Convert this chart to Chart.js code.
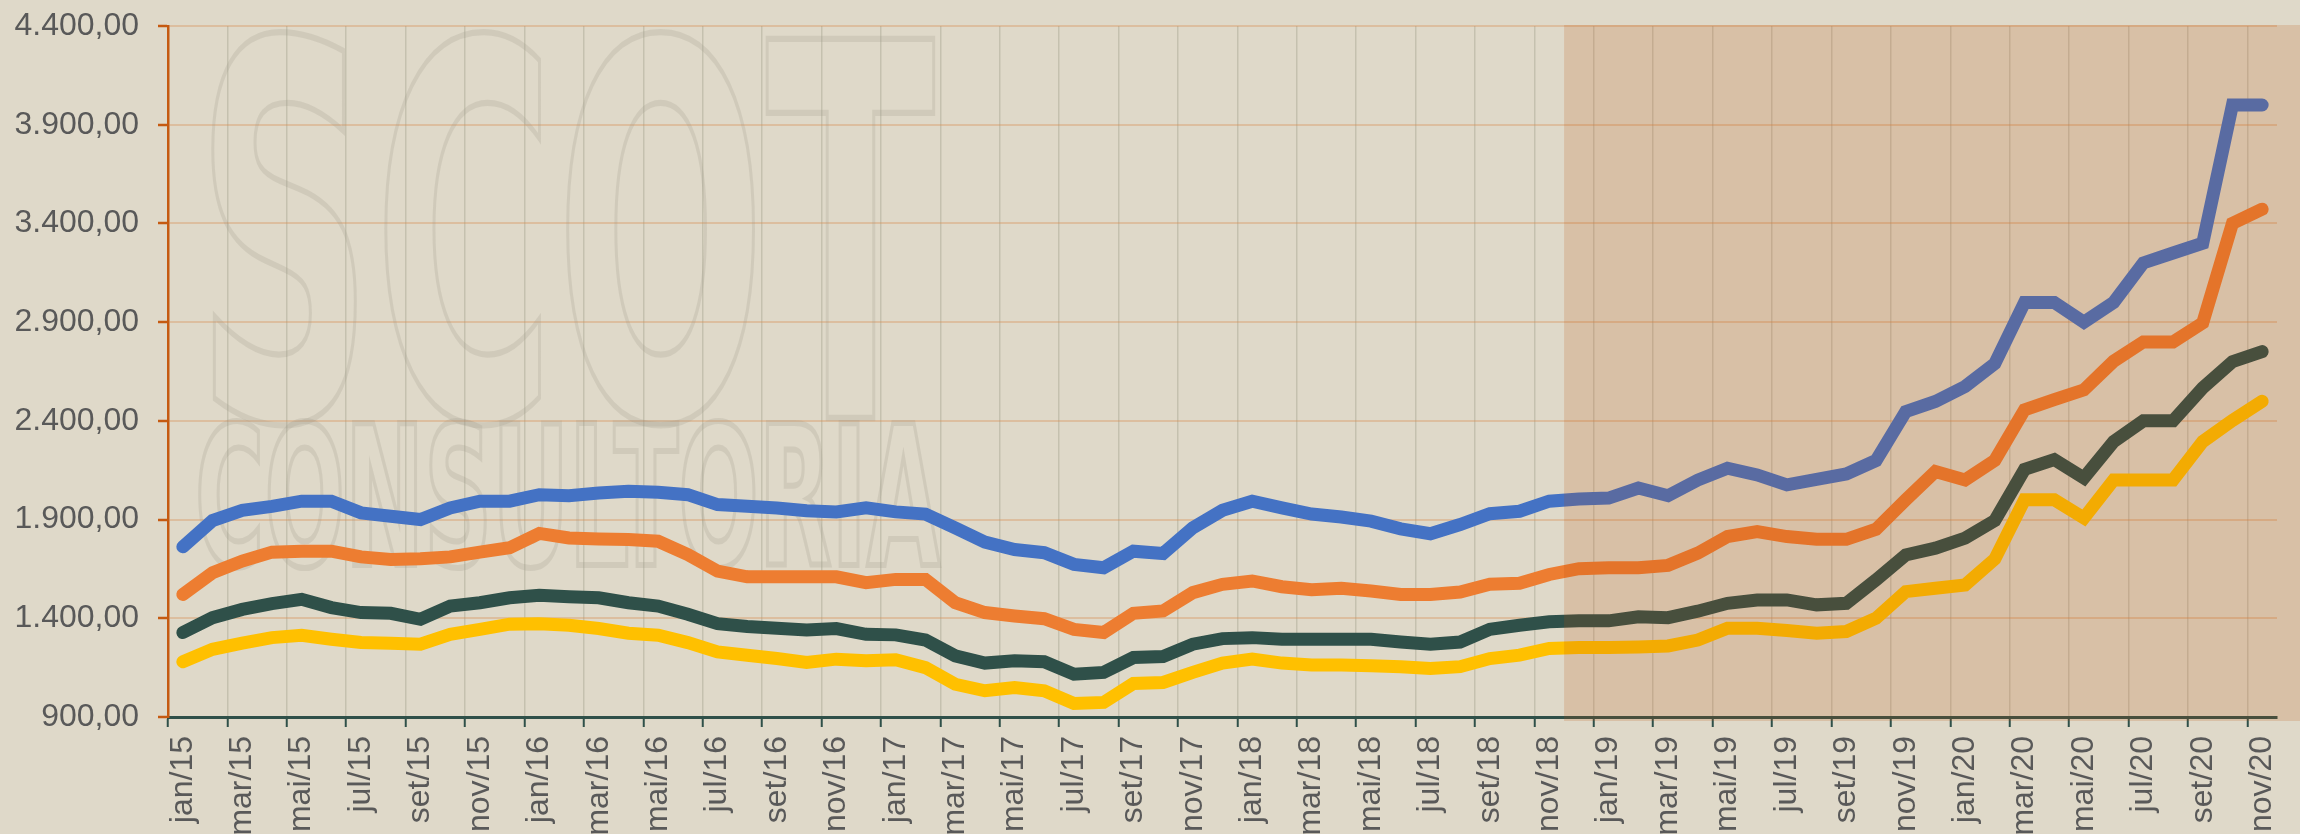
<!DOCTYPE html>
<html>
<head>
<meta charset="utf-8">
<script src="https://cdn.jsdelivr.net/npm/chart.js@4.4.1/dist/chart.umd.min.js"></script>
<style>
  html, body { margin: 0; padding: 0; background: #dfd9c9; }
  #wrap { width: 2300px; height: 834px; }
</style>
</head>
<body>
<div id="wrap"><canvas id="precoChart" width="2300" height="834"></canvas></div>
<script>
const meses = ["jan", "fev", "mar", "abr", "mai", "jun", "jul", "ago", "set", "out", "nov", "dez"];
const anos = ["15", "16", "17", "18", "19", "20"];

const serieAzul = [
  1762, 1895, 1947, 1967, 1993, 1993, 1934, 1917, 1900, 1959, 1993, 1993,
  2026, 2021, 2035, 2043, 2038, 2026, 1976, 1967, 1959, 1945, 1939, 1959,
  1939, 1928, 1858, 1786, 1748, 1732, 1673, 1656, 1740, 1728, 1858, 1947,
  1993, 1959, 1928, 1913, 1892, 1853, 1828, 1875, 1930, 1942, 1993, 2004,
  2009, 2060, 2021, 2100, 2160, 2126, 2076, 2104, 2131, 2199, 2447, 2498,
  2574, 2690, 3000, 3000, 2900, 3000, 3200, 3250, 3300, 4000, 4000
];
const serieLaranja = [
  1521, 1631, 1690, 1735, 1740, 1740, 1711, 1698, 1701, 1711, 1735, 1757,
  1830, 1807, 1802, 1799, 1790, 1723, 1639, 1610, 1610, 1610, 1610, 1580,
  1597, 1597, 1479, 1429, 1412, 1398, 1344, 1328, 1425, 1437, 1530, 1572,
  1589, 1560, 1545, 1552, 1538, 1521, 1521, 1533, 1572, 1577, 1622, 1651,
  1656, 1656, 1668, 1730, 1814, 1839, 1814, 1800, 1800, 1851, 2000, 2143,
  2101, 2200, 2456, 2508, 2557, 2702, 2800, 2800, 2896, 3400, 3472
];
const serieVerde = [
  1328, 1403, 1445, 1474, 1496, 1454, 1429, 1425, 1395, 1462, 1479, 1504,
  1517, 1509, 1504, 1479, 1462, 1420, 1373, 1358, 1350, 1341, 1348, 1319,
  1316, 1290, 1210, 1173, 1185, 1180, 1117, 1126, 1201, 1206, 1269, 1297,
  1302, 1294, 1294, 1294, 1294, 1280, 1269, 1280, 1344, 1365, 1382, 1387,
  1387, 1408, 1403, 1436, 1476, 1493, 1493, 1468, 1476, 1594, 1721, 1755,
  1806, 1895, 2154, 2204, 2111, 2295, 2400, 2400, 2567, 2700, 2751
];
const serieAmarela = [
  1180, 1243, 1274, 1302, 1314, 1294, 1277, 1274, 1269, 1319, 1344, 1370,
  1372, 1365, 1348, 1324, 1314, 1277, 1230, 1213, 1196, 1176, 1193, 1185,
  1190, 1150, 1066, 1033, 1049, 1033, 969, 974, 1070, 1075, 1126, 1173,
  1194, 1173, 1163, 1163, 1159, 1155, 1146, 1155, 1196, 1213, 1247, 1252,
  1252, 1255, 1260, 1290, 1350, 1350, 1338, 1324, 1333, 1400, 1535, 1552,
  1569, 1700, 2000, 2000, 1908, 2100, 2100, 2100, 2295, 2402, 2499
];
const inicioDestaque = "dez/18";

const rotulos = [];
anos.forEach(function (a) {
  meses.forEach(function (m) {
    if (rotulos.length < serieAzul.length) rotulos.push(m + "/" + a);
  });
});

function formatoBR(v) {
  return Math.round(v).toString().replace(/\B(?=(\d{3})+(?!\d))/g, ".") + ",00";
}

// marca d'agua ao fundo
const marcaDagua = {
  id: "marcaDagua",
  beforeDatasetsDraw(chart) {
    const c = chart.ctx;
    c.save();
    c.strokeStyle = "rgba(150,145,130,0.2)";
    c.textBaseline = "alphabetic";
    const desenha = function (txt, font, x, y, w) {
      c.font = font;
      const mw = c.measureText(txt).width;
      c.save();
      c.translate(x, y);
      c.scale(w / mw, 1);
      c.lineWidth = 3 * mw / w;
      c.strokeText(txt, 0, 0);
      c.restore();
    };
    desenha("SCOT", "bold 520px 'DejaVu Sans'", 195, 418, 740);
    desenha("CONSULTORIA", "bold 195px 'DejaVu Sans'", 195, 565, 745);
    c.restore();
  }
};

// faixa sombreada a partir de dez/18
const faixa = {
  id: "faixa",
  afterDatasetsDraw(chart) {
    const x = chart.scales.x;
    const a = chart.chartArea;
    const i = rotulos.indexOf(inicioDestaque);
    const esq = (x.getPixelForValue(i - 1) + x.getPixelForValue(i)) / 2;
    const c = chart.ctx;
    c.save();
    c.fillStyle = "rgba(190,80,10,0.18)";
    c.fillRect(esq, a.top - 1, chart.width - esq, a.bottom - a.top + 5);
    c.restore();
  }
};

const fonte = { family: "'Liberation Sans', Arial, sans-serif", size: 32 };

function linha(rotulo, dados, cor) {
  return {
    label: rotulo,
    data: dados,
    borderColor: cor,
    backgroundColor: cor,
    borderWidth: 13,
    borderCapStyle: "round",
    borderJoinStyle: "miter",
    pointRadius: 0,
    tension: 0,
    fill: false
  };
}

const ctx = document.getElementById("precoChart").getContext("2d");
new Chart(ctx, {
  type: "line",
  data: {
    labels: rotulos,
    datasets: [
      linha("Série 1", serieAzul, "#4472C4"),
      linha("Série 2", serieLaranja, "#ED7D31"),
      linha("Série 3", serieVerde, "#2F5049"),
      linha("Série 4", serieAmarela, "#FFC000")
    ]
  },
  options: {
    responsive: false,
    animation: false,
    layout: { padding: { top: 26, right: 23, left: 0, bottom: 0 } },
    plugins: {
      legend: { display: false },
      tooltip: { enabled: false }
    },
    scales: {
      x: {
        offset: true,
        afterFit: function (s) {
          s.height = 117;
          s.paddingLeft = 0;
          s.paddingRight = 0;
        },
        border: { color: "#2F5049", width: 3 },
        grid: {
          offset: true,
          lineWidth: 1.5,
          color: function (c) { return c.index % 2 === 0 ? "rgba(140,140,115,0.3)" : "rgba(0,0,0,0)"; },
          tickColor: function (c) { return c.index % 2 === 0 ? "#2F5049" : "rgba(0,0,0,0)"; },
          tickLength: 10,
          tickWidth: 2
        },
        ticks: {
          autoSkip: false,
          minRotation: 90,
          maxRotation: 90,
          padding: 9,
          color: "#595959",
          font: fonte,
          callback: function (v, i) { return i % 2 === 0 ? rotulos[i] : ""; }
        }
      },
      y: {
        min: 900,
        max: 4400,
        afterFit: function (s) {
          s.width = 168;
          s.paddingTop = 0;
          s.paddingBottom = 0;
        },
        border: { color: "#C55A11", width: 2.5 },
        grid: {
          color: "rgba(215,140,80,0.35)",
          lineWidth: 2,
          tickColor: "#C55A11",
          tickLength: 10,
          tickWidth: 2.5
        },
        ticks: {
          stepSize: 500,
          padding: 19,
          color: "#595959",
          font: fonte,
          callback: function (v) { return formatoBR(v); }
        }
      }
    }
  },
  plugins: [marcaDagua, faixa]
});
</script>
</body>
</html>
